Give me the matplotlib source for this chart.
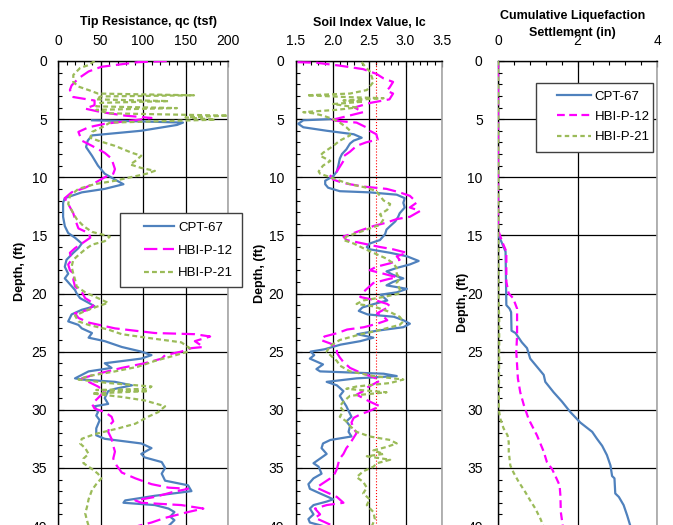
import numpy as np
import matplotlib
matplotlib.use("Agg")
import matplotlib.pyplot as plt
from matplotlib.ticker import MultipleLocator, FormatStrFormatter
from matplotlib.patches import Rectangle

plt.rcParams['font.family'] = ['Liberation Sans', 'DejaVu Sans']

# ---- Tip resistance qc (tsf) ----
cpt67_qc_depth = [5.1, 5.2, 5.3, 5.5, 6.0, 6.4, 6.85, 7.4, 8.15, 9.0, 9.7, 10.2, 10.6, 11.0, 11.3, 11.8,
                  12.2, 13.4, 14.2, 14.8, 15.2, 15.7, 16.1, 16.5, 17.1, 17.7, 18.3, 18.7, 19.2, 19.7, 20.0,
                  20.4, 20.8, 21.1, 21.4, 21.8, 22.4, 22.7, 23.0, 23.4, 23.8, 24.1, 24.6, 25.0, 25.3, 25.6,
                  26.0, 26.4, 26.7, 27.3, 27.4, 27.6, 27.9, 28.2, 28.4, 29.0, 29.5, 29.7, 30.2, 30.5, 30.9,
                  31.6, 32.2, 32.5, 32.9, 33.3, 33.8, 34.1, 34.5, 35.0, 35.5, 36.1, 36.5, 37.0, 37.4, 37.8,
                  38.0, 38.2, 38.5, 38.8, 39.2, 39.5, 40.0]
cpt67_qc = [40, 100, 147, 140, 98, 40, 35, 33, 40, 47, 55, 67, 77, 55, 28, 8,
            6, 6, 8, 12, 20, 28, 24, 18, 10, 8, 12, 8, 14, 20, 22,
            26, 36, 43, 28, 16, 12, 24, 28, 40, 36, 55, 75, 98, 110, 98,
            55, 63, 36, 20, 28, 67, 87, 67, 59, 55, 59, 43, 47, 45, 49,
            45, 45, 55, 98, 110, 98, 102, 122, 126, 122, 126, 153, 157, 114, 79,
            77, 114, 130, 137, 132, 137, 130]

p12_qc_depth = [0.0, 0.1, 0.5, 0.9, 1.5, 2.1, 2.5, 3.1, 3.4, 3.8, 4.1, 4.4, 4.7, 4.9, 5.1, 5.4, 5.7, 6.1,
                6.85, 7.3, 7.9, 8.4, 9.3, 9.7, 10.0, 10.5, 10.9, 11.3, 11.8, 12.3, 13.1, 13.6, 14.4, 14.8,
                15.2, 15.7, 16.1, 16.5, 17.1, 17.5, 18.0, 18.4, 18.8, 19.4, 19.9, 20.4, 20.9, 21.4, 21.7,
                22.1, 22.5, 23.0, 23.4, 23.5, 23.7, 24.1, 24.6, 24.7, 25.0, 25.3, 25.6, 26.0, 26.4, 26.9,
                27.3, 27.6, 28.0, 28.4, 29.0, 29.5, 29.9, 30.2, 30.6, 31.0, 31.3, 31.9, 32.5, 33.1, 33.6,
                34.2, 34.8, 35.4, 35.9, 36.4, 36.7, 36.8, 37.1, 37.5, 37.8, 38.0, 38.2, 38.5, 38.8, 39.3,
                39.7, 40.0]
p12_qc = [128, 94, 51, 36, 24, 16, 14, 18, 43, 43, 32, 51, 79, 110, 90, 55, 36, 24,
          28, 40, 55, 63, 67, 65, 55, 43, 32, 16, 8, 12, 18, 20, 24, 36,
          38, 28, 20, 14, 16, 12, 14, 20, 18, 20, 28, 32, 43, 36, 20,
          24, 36, 67, 114, 161, 179, 161, 171, 157, 145, 126, 122, 102, 75, 47,
          28, 36, 47, 55, 47, 40, 43, 55, 63, 65, 61, 59, 63, 65, 67,
          65, 69, 75, 91, 110, 130, 153, 134, 114, 91, 98, 145, 171, 153, 126,
          110, 94]

p21_qc_depth = [0.0, 0.35, 0.6, 1.2, 1.8, 2.2, 2.5, 2.8, 2.95, 3.05, 3.3, 3.45, 3.6, 3.9, 4.05, 4.2, 4.5,
                4.7, 4.85, 5.05, 5.3, 5.7, 6.1, 6.6, 6.85, 7.3, 7.9, 8.15, 8.6, 8.9, 9.2, 9.45, 9.7, 10.3,
                10.6, 11.0, 11.6, 12.3, 13.1, 13.6, 14.2, 14.7, 15.1, 15.5, 15.8, 16.2, 16.7, 17.1, 17.7,
                18.3, 18.8, 19.4, 19.9, 20.4, 20.8, 21.1, 21.5, 21.9, 22.4, 22.7, 23.1, 23.5, 23.9, 24.2,
                24.7, 25.0, 25.4, 25.8, 26.3, 26.7, 27.1, 27.4, 27.7, 28.0, 28.2, 28.3, 28.4, 28.6, 28.9,
                29.2, 29.7, 30.2, 30.6, 31.2, 31.6, 32.1, 32.5, 32.9, 33.3, 33.8, 34.2, 34.6, 35.1, 35.5,
                35.9, 36.4, 36.9, 37.7, 38.4, 38.9, 39.5, 40.0]
p21_qc = [43, 36, 26, 18, 18, 24, 36, 47, 160, 50, 45, 130, 50, 45, 140, 45, 60,
          200, 150, 185, 61, 52, 40, 38, 47, 67, 87, 98, 91, 85, 98, 114, 104, 67,
          43, 24, 14, 12, 18, 22, 30, 40, 61, 55, 40, 32, 24, 18, 16,
          18, 20, 22, 32, 47, 59, 47, 32, 20, 24, 36, 59, 75, 114, 145,
          155, 153, 134, 114, 94, 67, 36, 24, 59, 110, 106, 45, 106, 40, 75,
          102, 126, 118, 106, 91, 71, 43, 28, 26, 32, 36, 30, 30, 40, 47,
          51, 45, 40, 36, 34, 32, 34, 36]

# ---- Soil index Ic ----
cpt67_ic_depth = [5.0, 5.1, 5.4, 5.7, 6.0, 6.3, 6.6, 6.85, 7.1, 7.6, 8.0, 8.4, 9.0, 9.5, 9.9, 10.3, 10.6,
                  10.9, 11.2, 11.3, 11.5, 11.8, 12.2, 12.6, 13.1, 13.4, 13.8, 14.2, 14.5, 14.9, 15.4, 15.7,
                  16.0, 16.2, 16.5, 16.8, 17.2, 17.5, 17.8, 18.1, 18.4, 18.7, 19.0, 19.3, 19.6, 19.9, 20.1,
                  20.6, 20.9, 21.2, 21.5, 21.8, 22.0, 22.3, 22.6, 22.9, 23.2, 23.5, 23.8, 24.1, 24.4, 24.8,
                  25.0, 25.3, 25.6, 26.1, 26.5, 26.7, 26.9, 27.1, 27.3, 27.6, 27.9, 28.4, 28.8, 29.3, 29.7,
                  30.1, 30.6, 31.0, 31.4, 31.9, 32.3, 32.6, 32.9, 33.3, 33.8, 34.2, 34.6, 34.9, 35.5, 35.9,
                  36.4, 36.8, 37.2, 37.7, 37.9, 38.2, 38.5, 39.0, 39.4, 39.7, 40.0]
cpt67_ic = [1.97, 1.60, 1.53, 1.60, 1.92, 2.29, 2.40, 2.29, 2.24, 2.19, 2.13, 2.10, 2.08, 2.06, 2.01, 1.90, 1.90,
            1.94, 2.10, 2.51, 2.88, 2.99, 2.97, 2.99, 2.92, 2.90, 2.86, 2.79, 2.74, 2.72, 2.65, 2.51,
            2.47, 2.51, 2.79, 3.02, 3.18, 3.06, 2.88, 2.74, 2.83, 2.97, 2.83, 2.74, 3.02, 2.88, 2.66,
            2.75, 2.57, 2.41, 2.36, 2.48, 2.84, 2.97, 3.06, 2.97, 2.61, 2.34, 2.56, 2.38, 2.11, 1.89,
            1.70, 1.75, 1.69, 1.87, 1.78, 1.83, 2.70, 2.88, 2.33, 1.92, 2.06, 2.15, 2.10, 2.15, 2.19,
            2.22, 2.26, 2.19, 2.24, 2.22, 2.26, 1.97, 1.87, 1.85, 1.92, 1.83, 1.74, 1.81, 1.85, 1.74,
            1.67, 1.69, 1.83, 2.01, 1.92, 1.74, 1.69, 1.74, 1.67, 1.69, 1.87]

p12_ic_depth = [0.1, 0.15, 0.4, 0.7, 1.1, 1.5, 1.8, 2.3, 2.55, 2.8, 3.3, 3.6, 4.0, 4.4, 4.9, 5.1, 5.3, 5.7,
                6.0, 6.3, 6.75, 7.0, 7.3, 7.8, 8.2, 8.6, 9.1, 9.5, 9.9, 10.2, 10.5, 10.8, 11.0, 11.3, 11.6,
                11.9, 12.2, 12.6, 12.9, 13.4, 13.6, 13.9, 14.2, 14.5, 14.8, 15.1, 15.4, 15.7, 16.0, 16.2,
                16.5, 16.8, 17.1, 17.4, 17.7, 18.0, 18.3, 18.6, 18.8, 19.1, 19.6, 19.9, 20.3, 20.6, 20.9,
                21.1, 21.4, 21.7, 22.0, 22.3, 22.6, 22.9, 23.1, 23.4, 23.7, 24.0, 24.3, 24.6, 25.1, 25.5,
                25.9, 26.4, 26.8, 27.2, 27.5, 27.8, 28.1, 28.4, 28.7, 29.0, 29.3, 29.7, 30.1, 30.4, 30.7,
                31.1, 31.6, 32.0, 32.4, 32.9, 33.3, 33.8, 34.2, 34.6, 35.1, 35.5, 35.9, 36.4, 36.7, 37.1,
                37.5, 38.0, 38.2, 38.5, 39.0, 39.3, 39.6, 40.0]
p12_ic = [1.52, 1.78, 2.10, 2.42, 2.60, 2.70, 2.83, 2.78, 2.74, 2.83, 2.78, 2.52, 2.30, 2.42, 2.10, 1.97, 2.33, 2.46,
          2.51, 2.60, 2.62, 2.46, 2.33, 2.24, 2.15, 2.15, 2.10, 2.06, 1.97, 2.01, 2.15, 2.42, 2.74, 2.92, 3.06,
          3.11, 3.15, 3.06, 3.20, 3.06, 2.88, 2.74, 2.56, 2.42, 2.29, 2.15, 2.19, 2.42, 2.65, 2.83,
          3.02, 2.88, 2.92, 2.79, 2.60, 2.51, 2.70, 2.88, 2.74, 2.56, 2.47, 2.42, 2.38, 2.60, 2.75,
          2.79, 2.70, 2.61, 2.70, 2.75, 2.61, 2.43, 2.20, 2.07, 1.89, 1.84, 1.97, 2.06, 2.06, 2.10,
          2.15, 2.24, 2.38, 2.56, 2.65, 2.56, 2.47, 2.42, 2.33, 2.42, 2.51, 2.65, 2.51, 2.38, 2.29,
          2.26, 2.29, 2.33, 2.29, 2.24, 2.19, 2.15, 2.10, 2.08, 2.06, 2.03, 1.97, 1.85, 1.78, 1.92,
          2.06, 2.15, 1.92, 1.76, 1.83, 1.76, 1.87, 2.01]

p21_ic_depth = [0.1, 0.5, 0.9, 1.4, 1.8, 2.2, 2.5, 2.8, 2.95, 3.1, 3.2, 3.4, 3.5, 3.7, 4.0, 4.2, 4.4, 4.5,
                4.7, 5.0, 5.3, 5.7, 6.0, 6.4, 6.85, 7.3, 7.9, 8.15, 8.6, 9.0, 9.5, 9.7, 10.0, 10.3, 10.6,
                10.9, 11.2, 11.6, 12.0, 12.3, 12.8, 13.2, 13.6, 14.1, 14.4, 14.7, 15.1, 15.4, 15.7, 16.1,
                16.5, 17.0, 17.4, 17.8, 18.3, 18.7, 19.1, 19.6, 20.0, 20.3, 20.6, 20.9, 21.1, 21.6, 22.0,
                22.4, 22.7, 23.2, 23.6, 24.0, 24.5, 25.0, 25.3, 25.8, 26.2, 26.7, 27.1, 27.4, 27.7, 28.0,
                28.2, 28.5, 28.8, 29.3, 29.7, 30.1, 30.6, 31.0, 31.4, 31.9, 32.3, 32.6, 32.9, 33.2, 33.5,
                33.8, 34.0, 34.3, 34.6, 34.9, 35.3, 35.8, 36.2, 36.7, 37.2, 37.7, 38.2, 38.8, 39.4, 40.0]
p21_ic = [2.40, 2.45, 2.51, 2.54, 2.56, 2.51, 2.47, 2.24, 1.65, 2.19, 2.70, 2.15, 2.42, 2.01, 2.33, 2.06, 1.60, 1.74,
          1.87, 2.01, 2.10, 2.19, 2.24, 2.24, 2.10, 2.01, 1.87, 1.83, 1.97, 1.87, 1.81, 1.83, 1.97, 2.10, 2.24,
          2.47, 2.60, 2.65, 2.70, 2.79, 2.75, 2.65, 2.70, 2.65, 2.51, 2.38, 2.19, 2.15, 2.29, 2.42,
          2.56, 2.74, 2.83, 2.88, 2.88, 2.92, 2.88, 2.92, 2.92, 2.70, 2.42, 2.33, 2.56, 2.79, 2.92,
          2.97, 2.92, 2.61, 2.33, 2.10, 1.97, 1.92, 1.97, 2.06, 2.10, 2.24, 2.56, 2.97, 2.79, 2.33,
          2.19, 2.74, 2.24, 2.15, 2.10, 2.15, 2.10, 2.19, 2.24, 2.33, 2.51, 2.79, 2.88, 2.74, 2.56,
          2.70, 2.47, 2.79, 2.61, 2.56, 2.42, 2.33, 2.42, 2.47, 2.42, 2.51, 2.47, 2.56, 2.58, 2.54]

# ---- Cumulative liquefaction settlement (in) ----
cpt67_s_depth = [15.0, 15.5, 16.4, 21.0, 21.3, 21.6, 23.2, 23.4, 24.2, 24.7, 25.6, 26.3, 27.0, 27.6, 28.5,
                 29.3, 30.2, 31.1, 31.9, 32.5, 33.1, 33.9, 34.8, 35.7, 35.9, 37.2, 37.5, 38.2, 39.1, 40.0]
cpt67_s = [0.0, 0.08, 0.19, 0.21, 0.29, 0.33, 0.34, 0.44, 0.60, 0.73, 0.81, 0.98, 1.15, 1.19, 1.40,
           1.61, 1.82, 2.07, 2.37, 2.49, 2.62, 2.74, 2.83, 2.87, 2.93, 2.95, 3.04, 3.16, 3.25, 3.33]

p12_s_depth = [0.0, 14.5, 15.5, 16.4, 19.0, 20.0, 20.4, 21.3, 23.6, 25.0, 27.3, 28.5, 29.6, 30.8, 32.2,
               33.6, 34.5, 35.1, 35.9, 36.5, 37.4, 38.8, 40.0]
p12_s = [0.0, 0.0, 0.10, 0.21, 0.21, 0.27, 0.38, 0.48, 0.48, 0.46, 0.50, 0.56, 0.65, 0.77, 0.98,
         1.15, 1.23, 1.36, 1.47, 1.55, 1.57, 1.58, 1.63]

p21_s_depth = [0.0, 20.0, 22.2, 25.0, 30.0, 30.8, 31.6, 32.2, 32.8, 33.6, 34.8, 35.4, 36.2, 37.1, 37.8,
               38.5, 39.4, 40.0]
p21_s = [0.0, 0.01, 0.03, 0.03, 0.02, 0.06, 0.14, 0.24, 0.27, 0.27, 0.31, 0.39, 0.52, 0.69, 0.81,
         0.94, 1.07, 1.14]

labels = ["CPT-67", "HBI-P-12", "HBI-P-21"]
BLUE, MAGENTA, GREEN = "#4F81BD", "#FF00FF", "#9BBB59"

W, H = 673, 525
fig = plt.figure(figsize=(W / 100, H / 100), dpi=100)


def px_axes(x0, x1, y0, y1):
    return fig.add_axes([x0 / W, 1 - y1 / H, (x1 - x0) / W, (y1 - y0) / H])


def setup(ax, xlim, xmajor, xminor, ypad):
    ax.set_xlim(xlim)
    ax.set_ylim(40, 0)
    ax.xaxis.tick_top()
    ax.xaxis.set_major_locator(MultipleLocator(xmajor))
    ax.xaxis.set_minor_locator(MultipleLocator(xminor))
    ax.yaxis.set_major_locator(MultipleLocator(5))
    ax.yaxis.set_minor_locator(MultipleLocator(1))
    ax.tick_params(which='both', direction='in', top=True, bottom=False, left=True, right=False,
                   color='black', width=0.8)
    ax.tick_params(which='major', length=4, labelsize=10)
    ax.tick_params(which='minor', length=3)
    ax.tick_params(axis='x', which='major', pad=9.5)
    ax.tick_params(axis='y', which='major', pad=ypad)
    ax.set_axisbelow(True)
    ax.grid(True, which='major', color='black', lw=0.9)
    ax.spines['bottom'].set_visible(False)
    ax.spines['right'].set_color('#A6A6A6')
    ax.spines['right'].set_linewidth(1.2)
    for s in ('top', 'left'):
        ax.spines[s].set_linewidth(1.0)


def legend_box(ax, x0, y0, x1, y1, anchor, spacing, hlen):
    ax.add_patch(Rectangle((x0 / W, 1 - y1 / H), (x1 - x0) / W, (y1 - y0) / H,
                           transform=fig.transFigure, facecolor='white', edgecolor='#404040',
                           lw=1.0, zorder=4.5, clip_on=False))
    ax.legend(loc='upper left', bbox_to_anchor=(anchor[0] / W, 1 - anchor[1] / H),
              bbox_transform=fig.transFigure, frameon=False, fontsize=9.5, borderpad=0,
              labelspacing=spacing, handlelength=hlen, handletextpad=0.3).set_zorder(5)


# Panel 1: tip resistance
ax1 = px_axes(58, 228, 61, 526)
setup(ax1, (0, 200), 50, 10, 8)
ax1.plot(cpt67_qc, cpt67_qc_depth, color=BLUE, lw=1.6, zorder=3, label=labels[0])
ax1.plot(p12_qc, p12_qc_depth, color=MAGENTA, lw=1.6, dashes=(6, 2.5), zorder=3, label=labels[1])
ax1.plot(p21_qc, p21_qc_depth, color=GREEN, lw=1.6, dashes=(2.2, 1.4), zorder=3, label=labels[2])
legend_box(ax1, 120, 213, 242, 287, (137, 215), 0.8, 2.3)

# Panel 2: soil index
ax2 = px_axes(296, 442, 61, 526)
setup(ax2, (1.5, 3.5), 0.5, 0.1, 8.5)
ax2.xaxis.set_major_formatter(FormatStrFormatter('%.1f'))
ax2.axvline(2.6, color='red', lw=0.8, ls=':', zorder=2.5)
ax2.plot(cpt67_ic, cpt67_ic_depth, color=BLUE, lw=1.6, zorder=3)
ax2.plot(p12_ic, p12_ic_depth, color=MAGENTA, lw=1.6, dashes=(6, 2.5), zorder=3)
ax2.plot(p21_ic, p21_ic_depth, color=GREEN, lw=1.6, dashes=(2.2, 1.4), zorder=3)

# Panel 3: cumulative settlement
ax3 = px_axes(498, 657, 61, 526)
setup(ax3, (0, 4), 2, 0.4, 11)
ax3.plot(cpt67_s, cpt67_s_depth, color=BLUE, lw=1.6, zorder=3, label=labels[0])
ax3.plot(p12_s, p12_s_depth, color=MAGENTA, lw=1.6, dashes=(3.5, 2), zorder=3, label=labels[1])
ax3.plot(p21_s, p21_s_depth, color=GREEN, lw=1.6, dashes=(2, 1.5), zorder=3, label=labels[2])
legend_box(ax3, 536, 83, 653, 152, (550, 84), 0.6, 2.6)

# Titles and axis labels
tkw = dict(fontsize=9, fontweight='bold', ha='center', va='center')
fig.text(149 / W, 1 - 22.5 / H, "Tip Resistance, qc (tsf)", **tkw)
fig.text(369 / W, 1 - 22.5 / H, "Soil Index Value, Ic", **tkw)
fig.text(572.5 / W, 1 - 16 / H, "Cumulative Liquefaction", **tkw)
fig.text(572 / W, 1 - 33 / H, "Settlement (in)", **tkw)
for x, y in [(20, 271), (260, 273), (463, 302)]:
    fig.text(x / W, 1 - y / H, "Depth, (ft)", rotation=90, **tkw)

fig.savefig("out.png", dpi=100)
